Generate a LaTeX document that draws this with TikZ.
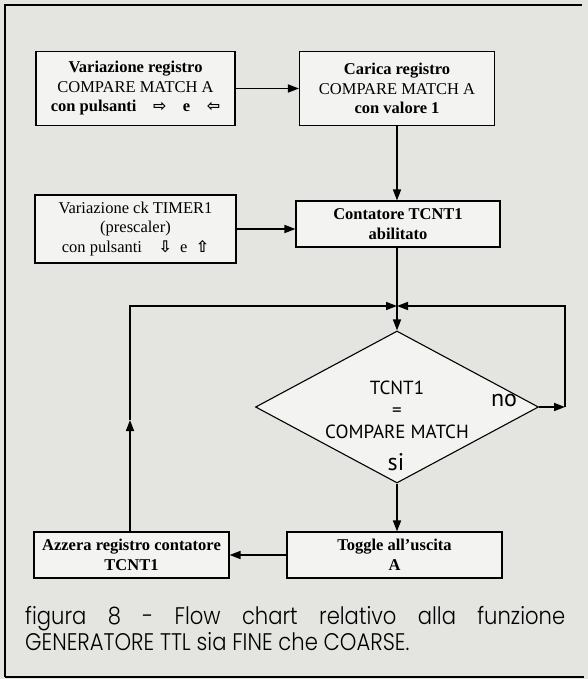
\documentclass[tikz,border=0pt]{standalone}
\usepackage{fontspec}
\setmainfont{Liberation Serif}
\newfontfamily\symf{DejaVu Sans}
\newfontfamily\dsf{PT Sans}
\newfontfamily\capf{Poppins}[UprightFont={* Light},FakeStretch=0.88]
\usetikzlibrary{arrows.meta,shapes.geometric}
\definecolor{bg}{HTML}{E4E4E1}
\definecolor{boxbg}{HTML}{F3F3F1}
\newcommand{\parr}[1]{{\symf\bfseries\fontsize{16}{16}\selectfont #1}}
\begin{document}
\begin{tikzpicture}[x=1pt,y=-1pt,
  box/.style={draw,line width=1.1pt,fill=boxbg,inner sep=0pt,align=center,font=\fontsize{16.5}{19.5}\selectfont},
  conn/.style={line width=1.6pt},
  arr/.style={conn,-{Triangle[length=11pt,width=8pt]}},
  lbl/.style={font=\dsf\fontsize{24}{24}\selectfont,inner sep=0pt}]
\fill[bg] (0,0) rectangle (588,679);
\useasboundingbox (0,0) rectangle (588,679);
\draw[line width=1.5pt] (5,677) -- (5,5) -- (582,5);
\draw[line width=1.5pt] (5,677) -- (584,677);

\node[box,minimum width=199pt,minimum height=74pt] (b1) at (135.5,88.5)
  {\textbf{Variazione registro}\\COMPARE MATCH A\\\textbf{con pulsanti}\quad\parr{⇨}\quad\textbf{e}\quad\parr{⇦}};
\node[box,minimum width=195pt,minimum height=74pt] (b2) at (397,88.5)
  {\textbf{Carica registro}\\COMPARE MATCH A\\\textbf{con valore 1}};
\node[box,minimum width=201pt,minimum height=68pt] (b4) at (135.5,229)
  {Variazione ck TIMER1\\(prescaler)\\con pulsanti\quad\parr{⇩}\enspace e\enspace\parr{⇧}};
\node[box,minimum width=204pt,minimum height=46pt] (b3) at (398,224)
  {\textbf{Contatore TCNT1}\\\textbf{abilitato}};
\node[draw,line width=1.1pt,fill=boxbg,shape=diamond,minimum width=283pt,minimum height=152pt,inner sep=0pt] (dia) at (397,407) {};
\node[inner sep=0pt,align=center,font=\dsf\fontsize{19}{22}\selectfont] (dtxt) at (397,410)
  {TCNT1\\=\\COMPARE MATCH};
\node[lbl] (no) at (504,400) {no};
\node[lbl] (si) at (396,462) {si};
\node[box,minimum width=215pt,minimum height=46pt] (b6) at (394.5,555)
  {\textbf{Toggle all'uscita}\\\textbf{A}};
\node[box,minimum width=195pt,minimum height=46pt] (b5) at (131.5,555)
  {\textbf{Azzera registro contatore}\\\textbf{TCNT1}};

\coordinate (J) at (397,306);
\coordinate (R) at (565,407);
\coordinate (Lm) at (130,420);

\draw[arr] (b1.east) -- (b2.west);
\draw[arr] (b2.south) -- (b2.south |- b3.north);
\draw[arr] (b4.east) -- (b4.east -| b3.west);
\draw[arr] (J |- b3.south) -- (dia.north);
\draw[arr] (dia.east) -- (R);
\draw[arr] (R) |- (J);
\draw[arr] (dia.south) -- (dia.south |- b6.north);
\draw[arr] (b6.west) -- (b5.east);
\draw[arr] (b5.north -| Lm) -- (Lm);
\draw[arr] (Lm) |- (J);

\node[anchor=north west,text width=540pt,align=justify,inner sep=0pt,
  font=\capf\fontsize{24}{26}\selectfont] (cap) at (25,606)
  {figura 8 - Flow chart relativo alla funzione\linebreak GENERATORE TTL sia FINE che COARSE.};
\end{tikzpicture}
\end{document}
